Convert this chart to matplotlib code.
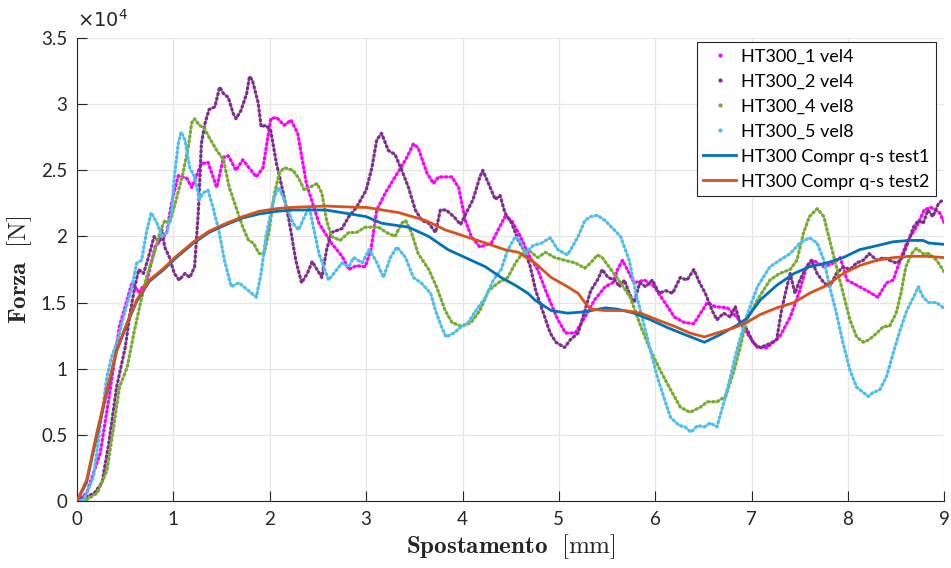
import numpy as np
import matplotlib
matplotlib.use("Agg")
import matplotlib.pyplot as plt
from matplotlib.ticker import FuncFormatter
from matplotlib.lines import Line2D

plt.rcParams['font.family'] = ['Lato', 'DejaVu Sans']
plt.rcParams['mathtext.fontset'] = 'cm'

# Force values are stored in units of 10^4 N, displacement in mm: [x, F]
ht300_1_vel4 = np.array([
    [0, 0], [0.1, 0.06], [0.24, 0.36], [0.34, 0.82], [0.44, 1.32], [0.57, 1.65], [0.64, 1.58],
    [0.72, 1.65], [0.81, 1.92], [0.93, 2.03], [0.98, 2.25], [1.05, 2.46], [1.14, 2.44], [1.19, 2.37],
    [1.29, 2.55], [1.36, 2.56], [1.45, 2.37], [1.52, 2.60], [1.57, 2.61], [1.65, 2.50], [1.72, 2.58],
    [1.86, 2.45], [1.93, 2.52], [2.01, 2.89], [2.07, 2.90], [2.15, 2.84], [2.22, 2.88], [2.29, 2.78],
    [2.38, 2.40], [2.51, 2.10], [2.64, 1.95], [2.75, 1.85], [2.82, 1.75], [2.90, 1.78], [2.99, 1.77],
    [3.05, 1.90], [3.11, 2.20], [3.20, 2.33], [3.30, 2.45], [3.41, 2.58], [3.49, 2.70], [3.54, 2.67],
    [3.63, 2.48], [3.70, 2.40], [3.75, 2.45], [3.89, 2.45], [3.96, 2.37], [4.03, 2.12], [4.09, 2.00],
    [4.18, 1.92], [4.30, 1.95], [4.37, 2.05], [4.44, 2.15], [4.51, 2.12], [4.60, 2.00], [4.68, 1.87],
    [4.78, 1.75], [4.89, 1.54], [4.99, 1.37], [5.07, 1.27], [5.17, 1.27], [5.27, 1.39], [5.37, 1.52],
    [5.48, 1.62], [5.56, 1.65], [5.61, 1.75], [5.66, 1.82], [5.71, 1.75], [5.78, 1.65], [5.89, 1.67],
    [5.99, 1.62], [6.10, 1.50], [6.20, 1.39], [6.30, 1.35], [6.40, 1.34], [6.47, 1.42], [6.54, 1.50],
    [6.62, 1.47], [6.75, 1.46], [6.85, 1.39], [6.95, 1.27], [7.06, 1.16], [7.16, 1.16], [7.29, 1.24],
    [7.40, 1.39], [7.49, 1.57], [7.57, 1.77], [7.64, 1.82], [7.75, 1.77], [7.85, 1.80], [7.92, 1.84],
    [7.99, 1.67], [8.12, 1.62], [8.22, 1.58], [8.31, 1.54], [8.40, 1.65], [8.47, 1.67], [8.54, 1.82],
    [8.62, 1.97], [8.71, 2.07], [8.79, 2.20], [8.86, 2.22], [8.95, 2.18], [9.0, 2.10]])

ht300_2_vel4 = np.array([
    [0, 0], [0.18, 0.06], [0.26, 0.14], [0.33, 0.44], [0.41, 0.86], [0.50, 1.16], [0.55, 1.42],
    [0.60, 1.62], [0.64, 1.75], [0.69, 1.72], [0.74, 1.84], [0.80, 2.00], [0.85, 1.96], [0.88, 2.05],
    [0.91, 1.92], [0.96, 1.84], [1.01, 1.72], [1.06, 1.67], [1.12, 1.72], [1.17, 1.69], [1.22, 1.77],
    [1.26, 2.20], [1.29, 2.70], [1.33, 2.86], [1.37, 2.96], [1.43, 2.98], [1.48, 3.13], [1.52, 3.08],
    [1.57, 3.05], [1.62, 2.93], [1.65, 2.89], [1.70, 2.95], [1.76, 3.08], [1.79, 3.21], [1.82, 3.18],
    [1.88, 3.01], [1.91, 2.83], [1.96, 2.84], [2.01, 2.80], [2.07, 2.55], [2.14, 2.33], [2.20, 2.12],
    [2.27, 1.82], [2.33, 1.65], [2.39, 1.72], [2.44, 1.81], [2.49, 1.75], [2.54, 1.69], [2.59, 1.90],
    [2.64, 2.03], [2.75, 2.06], [2.82, 2.15], [2.90, 2.22], [3.00, 2.35], [3.06, 2.52], [3.11, 2.73],
    [3.16, 2.78], [3.23, 2.65], [3.30, 2.62], [3.37, 2.50], [3.44, 2.37], [3.51, 2.20], [3.58, 2.12],
    [3.65, 2.10], [3.72, 2.03], [3.77, 2.20], [3.83, 2.20], [3.91, 2.15], [3.98, 2.09], [4.04, 2.18],
    [4.11, 2.28], [4.18, 2.45], [4.21, 2.50], [4.27, 2.40], [4.34, 2.28], [4.39, 2.31], [4.44, 2.18],
    [4.51, 2.10], [4.58, 1.97], [4.65, 1.88], [4.70, 1.78], [4.76, 1.59], [4.83, 1.44], [4.91, 1.27],
    [4.97, 1.20], [5.06, 1.16], [5.12, 1.22], [5.20, 1.27], [5.27, 1.44], [5.33, 1.59], [5.40, 1.67],
    [5.45, 1.75], [5.51, 1.69], [5.58, 1.67], [5.63, 1.62], [5.68, 1.67], [5.73, 1.57], [5.78, 1.50],
    [5.84, 1.65], [5.90, 1.62], [5.97, 1.67], [6.04, 1.57], [6.11, 1.59], [6.18, 1.57], [6.26, 1.69],
    [6.33, 1.67], [6.40, 1.75], [6.46, 1.65], [6.52, 1.57], [6.59, 1.44], [6.64, 1.37], [6.71, 1.42],
    [6.78, 1.39], [6.83, 1.47], [6.88, 1.35], [6.95, 1.30], [7.02, 1.19], [7.09, 1.16], [7.19, 1.19],
    [7.26, 1.22], [7.31, 1.44], [7.35, 1.57], [7.40, 1.72], [7.45, 1.57], [7.50, 1.67], [7.57, 1.77],
    [7.62, 1.82], [7.68, 1.72], [7.75, 1.65], [7.81, 1.62], [7.88, 1.72], [7.95, 1.77], [8.02, 1.75],
    [8.09, 1.80], [8.16, 1.82], [8.22, 1.87], [8.30, 1.82], [8.37, 1.84], [8.43, 1.82], [8.50, 1.80],
    [8.55, 1.82], [8.62, 1.95], [8.68, 2.07], [8.73, 2.12], [8.78, 2.10], [8.83, 2.20], [8.88, 2.15],
    [8.94, 2.25], [8.99, 2.28]])

ht300_4_vel8 = np.array([
    [0, 0], [0.1, 0.01], [0.21, 0.06], [0.31, 0.23], [0.38, 0.56], [0.44, 0.86], [0.52, 1.01],
    [0.59, 1.27], [0.65, 1.47], [0.72, 1.69], [0.80, 1.87], [0.86, 2.03], [0.91, 2.12], [0.96, 2.10],
    [1.03, 2.28], [1.10, 2.48], [1.16, 2.70], [1.19, 2.86], [1.22, 2.89], [1.27, 2.84], [1.32, 2.82],
    [1.37, 2.75], [1.45, 2.65], [1.52, 2.58], [1.58, 2.37], [1.65, 2.22], [1.72, 2.07], [1.78, 1.97],
    [1.83, 1.95], [1.89, 1.87], [1.94, 1.87], [1.99, 2.03], [2.05, 2.33], [2.10, 2.48], [2.15, 2.52],
    [2.24, 2.50], [2.30, 2.44], [2.36, 2.35], [2.41, 2.37], [2.49, 2.40], [2.54, 2.33], [2.59, 2.12],
    [2.64, 2.00], [2.73, 1.97], [2.82, 2.03], [2.90, 2.03], [2.99, 2.07], [3.13, 2.07], [3.21, 2.03],
    [3.30, 2.00], [3.37, 2.10], [3.41, 2.12], [3.47, 2.03], [3.54, 1.87], [3.65, 1.75], [3.73, 1.62],
    [3.82, 1.44], [3.89, 1.35], [3.99, 1.32], [4.09, 1.35], [4.18, 1.44], [4.27, 1.59], [4.37, 1.65],
    [4.47, 1.69], [4.55, 1.80], [4.61, 1.86], [4.68, 1.90], [4.78, 1.84], [4.86, 1.88], [4.96, 1.84],
    [5.06, 1.82], [5.17, 1.80], [5.27, 1.76], [5.33, 1.80], [5.40, 1.86], [5.45, 1.84], [5.54, 1.75],
    [5.64, 1.65], [5.74, 1.54], [5.85, 1.32], [5.95, 1.14], [6.05, 0.99], [6.16, 0.84], [6.26, 0.71],
    [6.36, 0.67], [6.47, 0.71], [6.54, 0.75], [6.64, 0.75], [6.73, 0.79], [6.82, 0.99], [6.88, 1.16],
    [6.95, 1.37], [7.06, 1.52], [7.19, 1.67], [7.29, 1.72], [7.40, 1.75], [7.47, 1.82], [7.54, 2.03],
    [7.60, 2.15], [7.68, 2.21], [7.75, 2.15], [7.81, 1.97], [7.88, 1.77], [7.95, 1.57], [8.02, 1.37],
    [8.09, 1.24], [8.16, 1.20], [8.22, 1.22], [8.30, 1.27], [8.37, 1.32], [8.43, 1.32], [8.50, 1.42],
    [8.55, 1.57], [8.60, 1.77], [8.66, 1.87], [8.71, 1.91], [8.78, 1.87], [8.84, 1.87], [8.92, 1.82],
    [9.0, 1.73]])

ht300_5_vel8 = np.array([
    [0, 0], [0.07, 0.01], [0.17, 0.18], [0.24, 0.56], [0.31, 0.94], [0.36, 1.09], [0.43, 1.24],
    [0.50, 1.44], [0.57, 1.62], [0.62, 1.80], [0.67, 1.82], [0.72, 2.03], [0.77, 2.18], [0.83, 2.10],
    [0.88, 2.00], [0.93, 2.03], [0.98, 2.18], [1.01, 2.45], [1.05, 2.70], [1.08, 2.79], [1.12, 2.73],
    [1.17, 2.52], [1.22, 2.45], [1.27, 2.28], [1.31, 2.33], [1.36, 2.35], [1.41, 2.22], [1.47, 2.05],
    [1.53, 1.82], [1.60, 1.62], [1.68, 1.65], [1.78, 1.59], [1.86, 1.54], [1.91, 1.72], [1.96, 2.00],
    [2.04, 2.28], [2.09, 2.37], [2.15, 2.28], [2.24, 2.10], [2.30, 2.05], [2.36, 2.15], [2.41, 2.22],
    [2.51, 1.87], [2.61, 1.67], [2.75, 1.80], [2.82, 1.77], [2.87, 1.84], [2.96, 1.80], [3.03, 1.90],
    [3.10, 1.82], [3.18, 1.69], [3.25, 1.84], [3.32, 1.92], [3.41, 1.84], [3.49, 1.69], [3.57, 1.65],
    [3.67, 1.57], [3.72, 1.44], [3.78, 1.32], [3.83, 1.24], [3.91, 1.27], [3.99, 1.32], [4.06, 1.35],
    [4.14, 1.44], [4.24, 1.54], [4.32, 1.67], [4.40, 1.75], [4.47, 1.90], [4.55, 2.00], [4.61, 1.95],
    [4.65, 1.87], [4.73, 1.93], [4.82, 1.95], [4.91, 1.99], [4.99, 1.90], [5.09, 1.86], [5.20, 2.00],
    [5.27, 2.12], [5.33, 2.15], [5.40, 2.16], [5.48, 2.12], [5.56, 2.06], [5.64, 2.00], [5.73, 1.82],
    [5.80, 1.57], [5.87, 1.37], [5.95, 1.14], [6.02, 0.94], [6.10, 0.76], [6.16, 0.63], [6.25, 0.57],
    [6.31, 0.56], [6.37, 0.52], [6.44, 0.57], [6.51, 0.56], [6.57, 0.59], [6.64, 0.56], [6.71, 0.74],
    [6.78, 0.94], [6.85, 1.15], [6.95, 1.40], [7.06, 1.62], [7.19, 1.77], [7.29, 1.82], [7.40, 1.87],
    [7.50, 1.95], [7.60, 1.99], [7.68, 1.95], [7.75, 1.82], [7.81, 1.62], [7.88, 1.42], [7.95, 1.19],
    [8.02, 0.99], [8.09, 0.86], [8.16, 0.82], [8.21, 0.79], [8.26, 0.82], [8.33, 0.84], [8.40, 0.94],
    [8.47, 1.12], [8.54, 1.29], [8.61, 1.44], [8.68, 1.54], [8.73, 1.62], [8.78, 1.54], [8.84, 1.50],
    [8.92, 1.50], [8.99, 1.46]])

compr_qs_test1 = np.array([
    [0, 0], [0.1, 0.14], [0.21, 0.51], [0.31, 0.82], [0.41, 1.13], [0.52, 1.34], [0.62, 1.51],
    [0.75, 1.66], [0.90, 1.75], [1.03, 1.84], [1.21, 1.95], [1.37, 2.03], [1.55, 2.09], [1.72, 2.14],
    [1.89, 2.17], [2.07, 2.19], [2.24, 2.20], [2.58, 2.20], [2.75, 2.18], [3.00, 2.15], [3.16, 2.10],
    [3.44, 2.07], [3.65, 2.00], [3.85, 1.90], [4.03, 1.84], [4.24, 1.77], [4.40, 1.69], [4.55, 1.63],
    [4.68, 1.57], [4.75, 1.52], [4.92, 1.44], [5.09, 1.42], [5.27, 1.43], [5.48, 1.46], [5.61, 1.45],
    [5.78, 1.42], [5.95, 1.37], [6.13, 1.31], [6.30, 1.26], [6.51, 1.20], [6.68, 1.26], [6.85, 1.33],
    [6.95, 1.38], [7.09, 1.52], [7.26, 1.63], [7.44, 1.72], [7.60, 1.77], [7.78, 1.80], [7.95, 1.84],
    [8.12, 1.90], [8.30, 1.93], [8.47, 1.96], [8.64, 1.97], [8.78, 1.97], [8.84, 1.95], [9.0, 1.94]])

compr_qs_test2 = np.array([
    [0, 0], [0.1, 0.16], [0.21, 0.53], [0.31, 0.84], [0.41, 1.14], [0.52, 1.35], [0.62, 1.52],
    [0.75, 1.67], [0.90, 1.76], [1.03, 1.85], [1.21, 1.96], [1.37, 2.04], [1.55, 2.10], [1.72, 2.15],
    [1.89, 2.19], [2.07, 2.21], [2.24, 2.22], [2.58, 2.23], [2.92, 2.22], [3.00, 2.22], [3.34, 2.18],
    [3.62, 2.12], [3.82, 2.05], [4.03, 2.00], [4.24, 1.95], [4.44, 1.90], [4.58, 1.88], [4.75, 1.80],
    [4.92, 1.69], [5.09, 1.62], [5.20, 1.57], [5.27, 1.50], [5.33, 1.45], [5.48, 1.44], [5.68, 1.44],
    [5.85, 1.42], [6.02, 1.37], [6.20, 1.32], [6.36, 1.27], [6.51, 1.24], [6.64, 1.27], [6.82, 1.31],
    [6.95, 1.35], [7.09, 1.41], [7.26, 1.46], [7.44, 1.50], [7.60, 1.57], [7.78, 1.63], [7.95, 1.72],
    [8.12, 1.78], [8.30, 1.82], [8.47, 1.84], [8.64, 1.85], [8.81, 1.85], [9.0, 1.84]])

dot_series = [
    ("HT300_1 vel4", ht300_1_vel4, "#FF00FF"),
    ("HT300_2 vel4", ht300_2_vel4, "#7E2F8E"),
    ("HT300_4 vel8", ht300_4_vel8, "#77AC30"),
    ("HT300_5 vel8", ht300_5_vel8, "#4DBEEE"),
]
line_series = [
    ("HT300 Compr q-s test1", compr_qs_test1, "#0072BD"),
    ("HT300 Compr q-s test2", compr_qs_test2, "#D95319"),
]

x_ticks = [0, 1, 2, 3, 4, 5, 6, 7, 8, 9]
y_ticks = [0, 0.5, 1, 1.5, 2, 2.5, 3, 3.5]

fig = plt.figure(figsize=(9.51, 5.68), dpi=100)
ax = fig.add_axes([0.081, 0.118, 0.912, 0.815])

handles = []
for label, data, color in dot_series:
    ax.plot(data[:, 0], data[:, 1], color=color, lw=2.3,
            linestyle=(0, (0.5, 1.0)), dash_capstyle='round', zorder=2)
    handles.append(Line2D([], [], color=color, marker='.', markersize=4,
                          linestyle='none', label=label))
for label, data, color in line_series:
    h, = ax.plot(data[:, 0], data[:, 1], color=color, lw=2.0, label=label, zorder=3)
    handles.append(h)

ax.set_xlim(0, 9)
ax.set_ylim(0, 3.5)
ax.set_xticks(x_ticks)
ax.set_yticks(y_ticks)
ax.yaxis.set_major_formatter(FuncFormatter(lambda v, p: f"{v:g}"))
ax.grid(True, color="#e6e6e6", lw=0.9)
ax.set_axisbelow(True)
for s in ("top", "right"):
    ax.spines[s].set_visible(False)
for s in ("left", "bottom"):
    ax.spines[s].set_color("#262626")
    ax.spines[s].set_linewidth(0.8)
ax.tick_params(direction="in", length=7, width=0.8, color="#262626",
               labelsize=13.5, labelcolor="#262626", pad=7)

ax.text(0.0, 1.015, r"$\times10^{4}$", transform=ax.transAxes, fontsize=14,
        color="#262626", ha="left", va="bottom",
        fontfamily="DejaVu Sans", math_fontfamily="dejavusans")

ax.set_xlabel(r"$\mathbf{Spostamento}\ \ [\mathrm{mm}]$", fontsize=18, color="#262626", labelpad=3)
ax.set_ylabel(r"$\mathbf{Forza}\ \ [\mathrm{N}]$", fontsize=18, color="#262626", labelpad=5)

leg = ax.legend(handles=handles, loc="upper right", bbox_to_anchor=(0.99, 0.991),
                fontsize=13, frameon=True, fancybox=False, framealpha=1,
                edgecolor="#262626", handlelength=1.85, handletextpad=0.25,
                labelspacing=0.5, borderpad=0.35, borderaxespad=0)
leg.get_frame().set_linewidth(0.8)

fig.savefig("out.png", dpi=100)
